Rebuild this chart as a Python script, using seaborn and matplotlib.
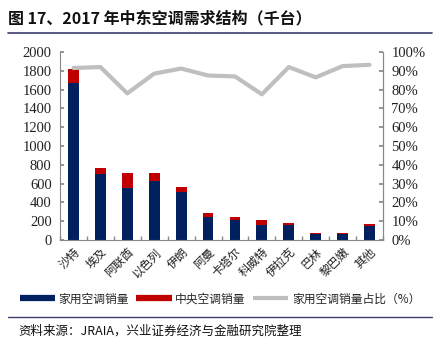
import matplotlib
matplotlib.use("Agg")
import matplotlib.pyplot as plt
import seaborn as sns
import pandas as pd
import numpy as np
from matplotlib.lines import Line2D

categories = ["沙特", "埃及", "阿联酋", "以色列", "伊朗", "阿曼", "卡塔尔", "科威特", "伊拉克", "巴林", "黎巴嫩", "其他"]
home_sales = [1670, 700, 555, 630, 510, 245, 215, 155, 160, 62, 68, 147]
total_sales = [1820, 770, 715, 715, 560, 285, 250, 208, 176, 79, 75, 168]
home_share = [91.5, 92.0, 78.0, 88.5, 91.2, 87.5, 87.0, 77.5, 92.0, 86.5, 92.5, 93.2]
left_ticks = list(range(0, 2001, 200))
right_ticks = list(range(0, 101, 10))

sns.set_theme(style="white")
plt.rcParams['font.family'] = ['Noto Sans CJK SC', 'DejaVu Sans']

df = pd.DataFrame({"cat": categories, "home": home_sales, "total": total_sales, "share": home_share})

NAVY = "#002060"
RED = "#C00000"
GRAY = "#BFBFBF"
serif = ['Liberation Serif', 'DejaVu Serif']

fig = plt.figure(figsize=(4.4, 3.49), dpi=100)
ax = fig.add_axes([60/440, 1 - 240/349, (383-60)/440, (240-52)/349])

sns.barplot(data=df, x="cat", y="total", color=RED, width=0.4, ax=ax, saturation=1, linewidth=0)
sns.barplot(data=df, x="cat", y="home", color=NAVY, width=0.4, ax=ax, saturation=1, linewidth=0)
ax.set_ylim(0, 2000)
ax.set_yticks(left_ticks)
ax.set_yticklabels([str(t) for t in left_ticks], family=serif, fontsize=10.5, color="#222222")
ax.set_xlabel("")
ax.set_ylabel("")
ax.set_xticks(range(len(categories)))
ax.set_xticklabels(categories, rotation=45, ha='right', rotation_mode='anchor', fontsize=8.5, color="#222222")
ax.set_xticks(np.arange(len(categories) + 1) - 0.5, minor=True)
ax.set_xlim(-0.5, len(categories) - 0.5)
ax.spines["top"].set_visible(False)
for s in ["left", "bottom", "right"]:
    ax.spines[s].set_color("#888888")
    ax.spines[s].set_linewidth(0.8)
ax.tick_params(axis='y', direction='in', length=3, color="#888888", pad=6)
ax.tick_params(axis='x', which='major', length=0, pad=4)
ax.tick_params(axis='x', which='minor', direction='in', length=3, color="#888888", bottom=True)

ax2 = ax.twinx()
sns.lineplot(data=df, x="cat", y="share", color=GRAY, linewidth=3, ax=ax2, sort=False)
ax2.set_ylim(0, 100)
ax2.set_yticks(right_ticks)
ax2.set_yticklabels([f"{t}%" for t in right_ticks], family=serif, fontsize=10.5, color="#222222")
ax2.set_ylabel("")
ax2.set_xlabel("")
ax2.spines["top"].set_visible(False)
ax2.spines["left"].set_visible(False)
ax2.spines["bottom"].set_visible(False)
ax2.spines["right"].set_color("#888888")
ax2.spines["right"].set_linewidth(0.8)
ax2.tick_params(axis='y', direction='in', length=3, color="#888888", pad=6)
ax2.set_xlim(-0.5, len(categories) - 0.5)

handles = [Line2D([], [], color=NAVY, lw=4.5, solid_capstyle='butt'),
           Line2D([], [], color=RED, lw=4.5, solid_capstyle='butt'),
           Line2D([], [], color=GRAY, lw=3, solid_capstyle='butt')]
labels = ["家用空调销量", "中央空调销量", "家用空调销量占比（%）"]
fig.legend(handles, labels, loc='center', bbox_to_anchor=(0.5, 1 - 299/349), ncol=3, frameon=False,
           fontsize=8.5, handlelength=3.0, handletextpad=0.3, columnspacing=0.6)

fig.text(8/440, 1 - 18/349, "图 17、2017 年中东空调需求结构（千台）", fontsize=11.5, fontweight='bold', va='center', ha='left', color="#111111")
fig.add_artist(Line2D([8/440, 432/440], [1 - 33/349, 1 - 33/349], color="#3c3c6e", lw=1.2))
fig.add_artist(Line2D([8/440, 432/440], [1 - 317/349, 1 - 317/349], color="#3c3c6e", lw=1.0))
fig.text(18/440, 1 - 331/349, "资料来源：JRAIA，兴业证券经济与金融研究院整理", fontsize=9, va='center', ha='left', color="#111111")

fig.savefig("out.png", dpi=100)
